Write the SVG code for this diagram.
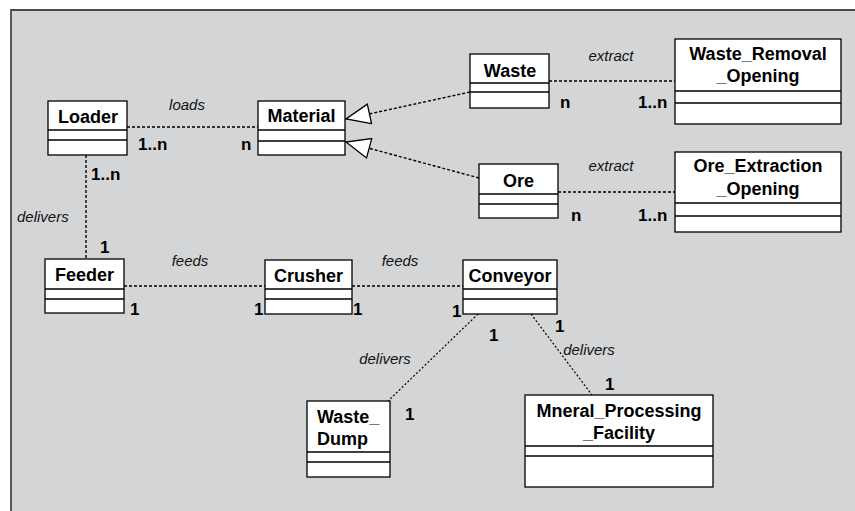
<svg xmlns="http://www.w3.org/2000/svg" width="855" height="511" viewBox="0 0 855 511">
<style>
.box{fill:#fff;stroke:#000;stroke-width:1.3}
.sep{stroke:#000;stroke-width:1.3}
.nm{font-family:"Liberation Sans",Arial,sans-serif;font-weight:bold;font-size:18px;fill:#000}
.lbl{font-family:"Liberation Sans",Arial,sans-serif;font-style:italic;font-size:15px;fill:#111}
.mul{font-family:"Liberation Sans",Arial,sans-serif;font-weight:bold;font-size:17px;fill:#000}
.dot{fill:none;stroke:#000;stroke-width:1.4;stroke-dasharray:3 2}
.dot2{fill:none;stroke:#000;stroke-width:1.2;stroke-dasharray:2 2}
</style>
<defs>
<marker id="gen" markerUnits="userSpaceOnUse" viewBox="0 0 26 22" refX="25" refY="11" markerWidth="26" markerHeight="22" orient="auto">
<path d="M1,1 L25,11 L1,21 Z" fill="#fff" stroke="#000" stroke-width="1.3" stroke-dasharray="none"/>
</marker>
</defs>
<rect x="0" y="0" width="855" height="511" fill="#fff"/>
<rect x="11" y="10" width="844" height="501" fill="#d4d5d7"/>
<path d="M11,511 V10 H855" fill="none" stroke="#4a4a4a" stroke-width="1.8"/>

<g id="connectors">
<line class="dot" x1="127" y1="127" x2="258" y2="127"/>
<line class="dot" x1="86" y1="155" x2="86" y2="259"/>
<line class="dot" x1="470" y1="92" x2="346" y2="119" marker-end="url(#gen)"/>
<line class="dot" x1="479" y1="178" x2="346" y2="142" marker-end="url(#gen)"/>
<line class="dot" x1="549" y1="81" x2="675" y2="81"/>
<line class="dot" x1="558" y1="192" x2="675" y2="192"/>
<line class="dot" x1="124" y1="286" x2="265" y2="286"/>
<line class="dot" x1="352" y1="286" x2="463" y2="286"/>
<line class="dot2" x1="478" y1="314" x2="388" y2="401"/>
<line class="dot2" x1="531" y1="314" x2="592" y2="395"/>
<text class="lbl" x="187" y="110" text-anchor="middle">loads</text>
<text class="mul" x="138" y="150">1..n</text>
<text class="mul" x="241" y="150">n</text>
<text class="lbl" x="611" y="61" text-anchor="middle">extract</text>
<text class="mul" x="560" y="108">n</text>
<text class="mul" x="638" y="108">1..n</text>
<text class="lbl" x="611" y="171" text-anchor="middle">extract</text>
<text class="mul" x="571" y="221">n</text>
<text class="mul" x="638" y="221">1..n</text>
<text class="mul" x="91" y="180">1..n</text>
<text class="lbl" x="17" y="222">delivers</text>
<text class="mul" x="100" y="253">1</text>
<text class="lbl" x="190" y="266" text-anchor="middle">feeds</text>
<text class="mul" x="130" y="315">1</text>
<text class="mul" x="254" y="315">1</text>
<text class="lbl" x="400" y="266" text-anchor="middle">feeds</text>
<text class="mul" x="353" y="315">1</text>
<text class="mul" x="452" y="317">1</text>
<text class="mul" x="489" y="341">1</text>
<text class="lbl" x="385" y="364" text-anchor="middle">delivers</text>
<text class="mul" x="405" y="420">1</text>
<text class="mul" x="555" y="332">1</text>
<text class="lbl" x="589" y="355" text-anchor="middle">delivers</text>
<text class="mul" x="605" y="390">1</text>
</g>

<g id="Loader">
<rect class="box" x="48" y="101" width="79" height="54"/>
<line class="sep" x1="48" y1="130" x2="127" y2="130"/>
<line class="sep" x1="48" y1="140" x2="127" y2="140"/>
<text class="nm" x="88" y="123" text-anchor="middle">Loader</text>
</g>
<g id="Material">
<rect class="box" x="258" y="101" width="87" height="54"/>
<line class="sep" x1="258" y1="130" x2="345" y2="130"/>
<line class="sep" x1="258" y1="141" x2="345" y2="141"/>
<text class="nm" x="301.5" y="122" text-anchor="middle">Material</text>
</g>
<g id="Waste">
<rect class="box" x="470" y="54" width="79" height="54"/>
<line class="sep" x1="470" y1="83" x2="549" y2="83"/>
<line class="sep" x1="470" y1="92" x2="549" y2="92"/>
<text class="nm" x="510" y="76.5" text-anchor="middle">Waste</text>
</g>
<g id="Ore">
<rect class="box" x="479" y="164" width="79" height="54"/>
<line class="sep" x1="479" y1="194" x2="558" y2="194"/>
<line class="sep" x1="479" y1="204" x2="558" y2="204"/>
<text class="nm" x="518.5" y="186.5" text-anchor="middle">Ore</text>
</g>
<g id="Waste_Removal_Opening">
<rect class="box" x="675" y="39" width="166" height="85"/>
<line class="sep" x1="675" y1="91" x2="841" y2="91"/>
<line class="sep" x1="675" y1="103" x2="841" y2="103"/>
<text class="nm" x="758" y="60" text-anchor="middle">Waste_Removal</text>
<text class="nm" x="758" y="82" text-anchor="middle">_Opening</text>
</g>
<g id="Ore_Extraction_Opening">
<rect class="box" x="675" y="152" width="166" height="80"/>
<line class="sep" x1="675" y1="203" x2="841" y2="203"/>
<line class="sep" x1="675" y1="216" x2="841" y2="216"/>
<text class="nm" x="758" y="172" text-anchor="middle">Ore_Extraction</text>
<text class="nm" x="758" y="195" text-anchor="middle">_Opening</text>
</g>
<g id="Feeder">
<rect class="box" x="45" y="259" width="79" height="54"/>
<line class="sep" x1="45" y1="289" x2="124" y2="289"/>
<line class="sep" x1="45" y1="299" x2="124" y2="299"/>
<text class="nm" x="84.5" y="280.5" text-anchor="middle">Feeder</text>
</g>
<g id="Crusher">
<rect class="box" x="265" y="260" width="87" height="54"/>
<line class="sep" x1="265" y1="289" x2="352" y2="289"/>
<line class="sep" x1="265" y1="299" x2="352" y2="299"/>
<text class="nm" x="308.5" y="281.5" text-anchor="middle">Crusher</text>
</g>
<g id="Conveyor">
<rect class="box" x="463" y="260" width="94" height="54"/>
<line class="sep" x1="463" y1="289" x2="557" y2="289"/>
<line class="sep" x1="463" y1="299" x2="557" y2="299"/>
<text class="nm" x="510" y="281.5" text-anchor="middle">Conveyor</text>
</g>
<g id="Waste_Dump">
<rect class="box" x="307" y="401" width="83" height="76"/>
<line class="sep" x1="307" y1="452" x2="390" y2="452"/>
<line class="sep" x1="307" y1="462" x2="390" y2="462"/>
<text class="nm" x="317" y="423">Waste_</text>
<text class="nm" x="317" y="445">Dump</text>
</g>
<g id="Mneral_Processing_Facility">
<rect class="box" x="525" y="395" width="188" height="92"/>
<line class="sep" x1="525" y1="446" x2="713" y2="446"/>
<line class="sep" x1="525" y1="456" x2="713" y2="456"/>
<text class="nm" x="619" y="416.5" text-anchor="middle">Mneral_Processing</text>
<text class="nm" x="619" y="438.5" text-anchor="middle">_Facility</text>
</g>
</svg>
